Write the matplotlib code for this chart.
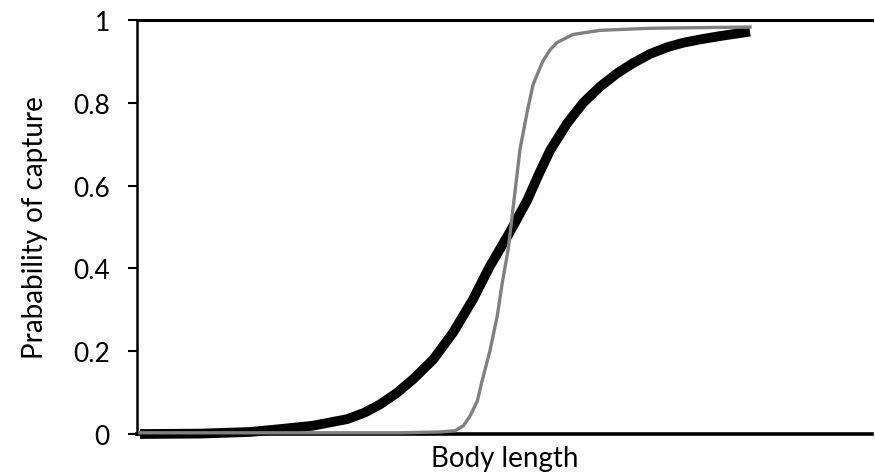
import matplotlib.pyplot as plt

plt.rcParams['font.family'] = ['Lato', 'DejaVu Sans']

# body length (arbitrary units, 0-100 across the axis) and capture probability
thick_x = [0.4, 8.6, 15.4, 19.5, 23.9, 28.6, 31.0, 33.1, 35.4, 37.6, 40.3, 43.0,
           45.7, 48.0, 50.7, 53.1, 54.6, 56.2, 58.5, 60.7, 63.0, 65.3, 67.5,
           69.8, 72.1, 74.3, 76.6, 78.9, 83.4]
thick_y = [0.0, 0.001, 0.005, 0.012, 0.02, 0.036, 0.052, 0.072, 0.1, 0.133,
           0.18, 0.245, 0.325, 0.405, 0.487, 0.565, 0.625, 0.685, 0.75, 0.8,
           0.839, 0.871, 0.896, 0.918, 0.934, 0.945, 0.953, 0.96, 0.972]

thin_x = [0.4, 22.2, 35.8, 41.2, 43.3, 44.4, 45.3, 46.3, 46.9, 48.0, 49.0, 49.7,
          50.5, 51.3, 52.1, 53.1, 53.9, 55.2, 56.2, 57.1, 59.3, 63.0, 69.8, 83.4]
thin_y = [0.003, 0.003, 0.003, 0.005, 0.008, 0.02, 0.043, 0.08, 0.125, 0.2,
          0.284, 0.366, 0.446, 0.566, 0.687, 0.78, 0.845, 0.9, 0.928, 0.945,
          0.965, 0.975, 0.98, 0.983]

yticks = [0, 0.2, 0.4, 0.6, 0.8, 1]
ytick_labels = ['0', '0.2', '0.4', '0.6', '0.8', '1']

fig = plt.figure(figsize=(8.75, 4.77), dpi=100)
ax = fig.add_axes([0.1566, 0.088, 0.84, 0.868])

ax.plot(thick_x, thick_y, color='black', lw=7, solid_capstyle='butt',
        solid_joinstyle='round', zorder=3, clip_on=False)
ax.plot(thin_x, thin_y, color='#808080', lw=2.4, solid_joinstyle='round',
        zorder=4, clip_on=False)

ax.set_xlim(0, 100)
ax.set_ylim(0, 1)
ax.set_xticks([])
ax.set_yticks(yticks)
ax.set_yticklabels(ytick_labels, fontsize=19)
ax.tick_params(axis='y', direction='out', length=6.5, width=1.5, pad=13)

ax.spines['right'].set_visible(False)
ax.spines['left'].set_linewidth(1.8)
ax.spines['top'].set_linewidth(2.2)
ax.spines['bottom'].set_linewidth(2.6)
for s in ax.spines.values():
    s.set_zorder(1)

ax.set_xlabel('Body length', fontsize=20, labelpad=8)
ax.set_ylabel('Prabability of capture', fontsize=20, labelpad=18)

fig.savefig('out.png', dpi=100)
